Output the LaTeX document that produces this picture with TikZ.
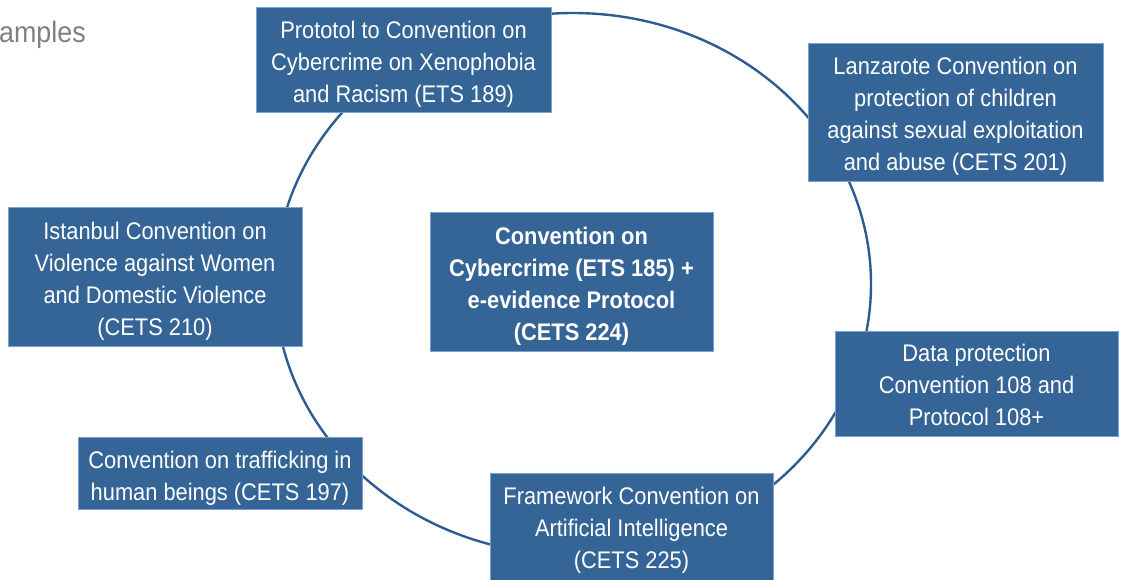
\documentclass[tikz,border=0pt]{standalone}
\usepackage{fontspec}
\setmainfont[FakeStretch=0.91]{Liberation Sans}
\definecolor{boxfill}{RGB}{52,101,150}
\definecolor{boxedge}{RGB}{120,160,210}
\definecolor{ringcol}{RGB}{46,92,145}
\definecolor{titlegray}{RGB}{128,128,128}
\tikzset{
  conv/.style={rectangle, fill=boxfill, draw=boxedge, line width=0.8pt, inner sep=0pt},
  convtext/.style={text=white, align=center, inner sep=0pt, font=\fontsize{24}{32}\selectfont},
  convboldtext/.style={convtext, font=\fontsize{24}{32}\selectfont\bfseries},
  ring/.style={draw=ringcol, line width=2.4pt}
}
\begin{document}
\begin{tikzpicture}[x=1pt,y=-1pt]
\useasboundingbox (0,0) rectangle (1121,579);
\node[anchor=base west, text=titlegray, inner sep=0pt, font=\fontsize{29.5}{32}\selectfont] (title) at (-1,42) {amples};
\coordinate (ringcenter) at (573,284);
\draw[ring] (ringcenter) ellipse [x radius=298pt, y radius=271pt];
\node[conv, minimum width=295pt, minimum height=105pt] (xeno) at (403.5,59.5) {};
\node[convtext] (xenotext) at ([yshift=-5pt]xeno.center)
  {Prototol to Convention on\\Cybercrime on Xenophobia\\and Racism (ETS 189)};
\node[conv, minimum width=295pt, minimum height=138pt] (lanz) at (955.5,112) {};
\node[convtext] (lanztext) at ([yshift=-4pt]lanz.center)
  {Lanzarote Convention on\\protection of children\\against sexual exploitation\\and abuse (CETS 201)};
\node[conv, minimum width=294pt, minimum height=139pt] (ist) at (155,276.5) {};
\node[convtext] (isttext) at ([yshift=-5pt]ist.center)
  {Istanbul Convention on\\Violence against Women\\and Domestic Violence\\(CETS 210)};
\node[conv, minimum width=283pt, minimum height=139pt] (budapest) at (571.5,281.5) {};
\node[convboldtext] (budapesttext) at ([yshift=-5pt]budapest.center)
  {Convention on\\Cybercrime (ETS 185) +\\e-evidence Protocol\\(CETS 224)};
\node[conv, minimum width=283pt, minimum height=105pt] (data) at (976.5,383.5) {};
\node[convtext] (datatext) at ([yshift=-1.5pt]data.center)
  {Data protection\\Convention 108 and\\Protocol 108+};
\node[conv, minimum width=284pt, minimum height=72pt] (traff) at (220,473) {};
\node[convtext] (trafftext) at ([yshift=-5pt]traff.center)
  {Convention on trafficking in\\human beings (CETS 197)};
\node[conv, minimum width=283pt, minimum height=109pt] (ai) at (631.5,527.5) {};
\node[convtext] (aitext) at ([yshift=-3pt]ai.center)
  {Framework Convention on\\Artificial Intelligence\\(CETS 225)};
\end{tikzpicture}
\end{document}
